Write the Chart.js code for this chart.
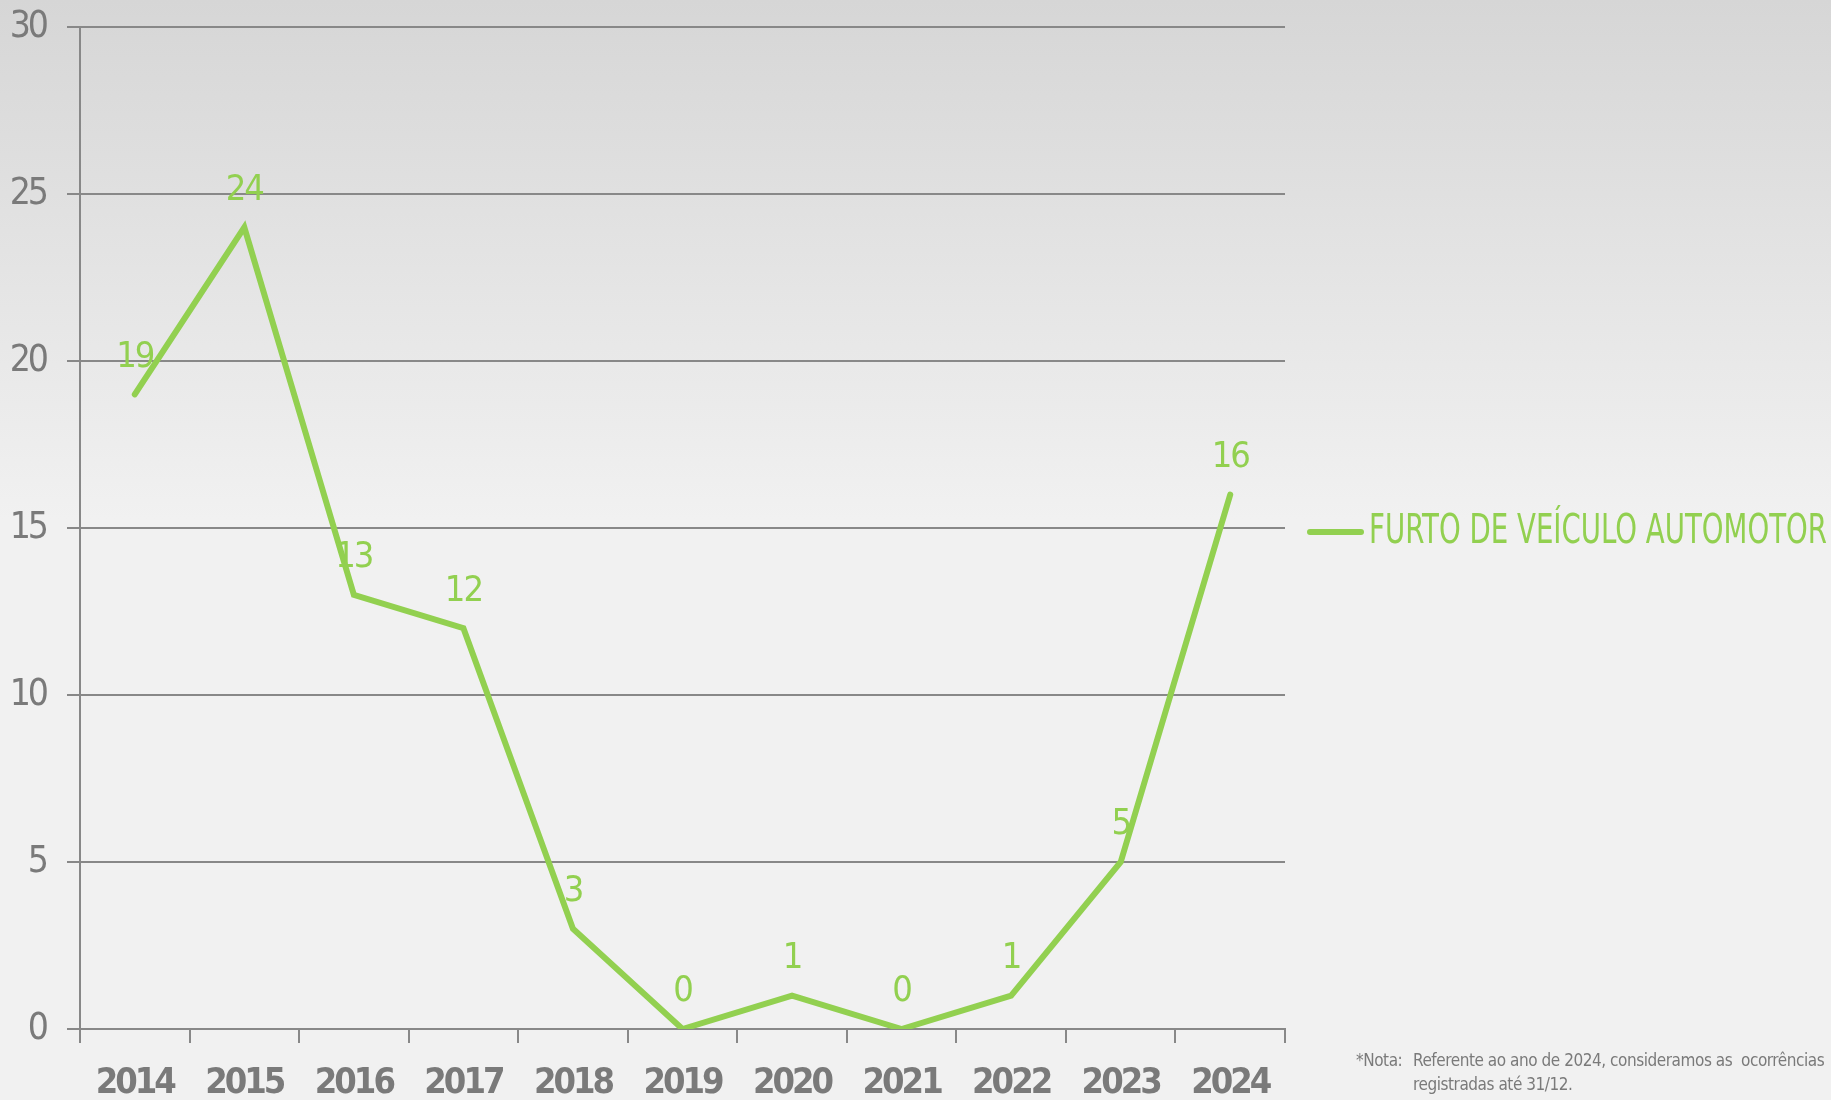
<!DOCTYPE html>
<html>
<head>
<meta charset="utf-8">
<script src="https://cdn.jsdelivr.net/npm/chart.js@4"></script>
<style>
  html, body { margin: 0; padding: 0; }
  body { width: 1831px; height: 1100px; overflow: hidden; background: linear-gradient(to bottom, #d6d6d6 0px, #f1f1f1 520px, #f1f1f1 1100px); position: relative; font-family: 'DejaVu Sans Condensed', 'Liberation Sans Narrow', sans-serif; }
  #wrap { position: absolute; left: 0; top: 0; width: 1831px; height: 1100px; }
  .nota { position: absolute; left: 1356px; top: 1048px; color: #7a7a7a; font-size: 17px; line-height: 24px; white-space: nowrap; letter-spacing: -0.45px; }
  .nota span { display: inline-block; width: 57px; }
</style>
</head>
<body>
<div id="wrap"><canvas id="chart" width="1831" height="1100"></canvas></div>
<div class="nota"><span>*Nota:</span>Referente ao ano de 2024, consideramos as &nbsp;ocorrências<br><span></span>registradas até 31/12.</div>
<script>
// dados
const years = ['2014', '2015', '2016', '2017', '2018', '2019', '2020', '2021', '2022', '2023', '2024'];
const furtoVeiculo = [19, 24, 13, 12, 3, 0, 1, 0, 1, 5, 16];
const seriesLabel = 'FURTO DE VEÍCULO AUTOMOTOR';
const lineColor = '#92d050';
const fontFam = "'DejaVu Sans Condensed', 'Liberation Sans Narrow', sans-serif";

// texto mais apertado nos eixos (fonte condensada)
const tightText = {
    id: 'tightText',
    beforeDraw(chart) { chart.ctx.letterSpacing = '-3px'; },
    afterDraw(chart) { chart.ctx.letterSpacing = '0px'; }
};

// rótulos de valor acima dos pontos
const valueLabels = {
    id: 'valueLabels',
    afterDatasetsDraw(chart) {
        const ctx = chart.ctx;
        const meta = chart.getDatasetMeta(0);
        ctx.save();
        ctx.letterSpacing = '-2px';
        ctx.fillStyle = lineColor;
        ctx.font = '36px ' + fontFam;
        ctx.textAlign = 'center';
        ctx.textBaseline = 'middle';
        meta.data.forEach((pt, i) => {
            ctx.fillText(String(chart.data.datasets[0].data[i]), pt.x, pt.y - 37);
        });
        ctx.restore();
    }
};

// legenda à direita
const sideLegend = {
    id: 'sideLegend',
    afterDraw(chart) {
        const ctx = chart.ctx;
        const ds = chart.data.datasets[0];
        const y = 532;
        ctx.save();
        ctx.letterSpacing = '0px';
        ctx.strokeStyle = ds.borderColor;
        ctx.lineWidth = 6;
        ctx.lineCap = 'round';
        ctx.beginPath();
        ctx.moveTo(1310, y);
        ctx.lineTo(1361, y);
        ctx.stroke();
        ctx.fillStyle = ds.borderColor;
        ctx.font = '40px ' + fontFam;
        ctx.textAlign = 'left';
        ctx.textBaseline = 'middle';
        ctx.fillText(ds.label, 1369, y + 1, 458);
        ctx.restore();
    }
};

const ctx = document.getElementById('chart').getContext('2d');
new Chart(ctx, {
    type: 'line',
    data: {
        labels: years,
        datasets: [{
            label: seriesLabel,
            data: furtoVeiculo,
            borderColor: lineColor,
            borderWidth: 6,
            pointRadius: 0,
            tension: 0,
            borderCapStyle: 'round',
            borderJoinStyle: 'miter'
        }]
    },
    options: {
        responsive: false,
        animation: false,
        layout: { padding: { top: 27, right: 546, left: 0, bottom: 0 } },
        plugins: { legend: { display: false }, tooltip: { enabled: false } },
        scales: {
            x: {
                offset: true,
                grid: { offset: true, drawOnChartArea: false, color: '#888888', lineWidth: 2, tickLength: 14 },
                border: { color: '#888888', width: 2 },
                ticks: { color: '#7a7a7a', font: { family: fontFam, size: 36, weight: 'bold', lineHeight: 1 }, padding: 23, maxRotation: 0 },
                afterFit(scale) { scale.height = 71; }
            },
            y: {
                min: 0,
                max: 30,
                grid: { color: '#888888', lineWidth: 2, tickLength: 13 },
                border: { color: '#888888', width: 2 },
                ticks: { stepSize: 5, color: '#7a7a7a', font: { family: fontFam, size: 37, lineHeight: 0.32 }, padding: 21 },
                afterFit(scale) { scale.width = 80; }
            }
        }
    },
    plugins: [tightText, valueLabels, sideLegend]
});
</script>
</body>
</html>
